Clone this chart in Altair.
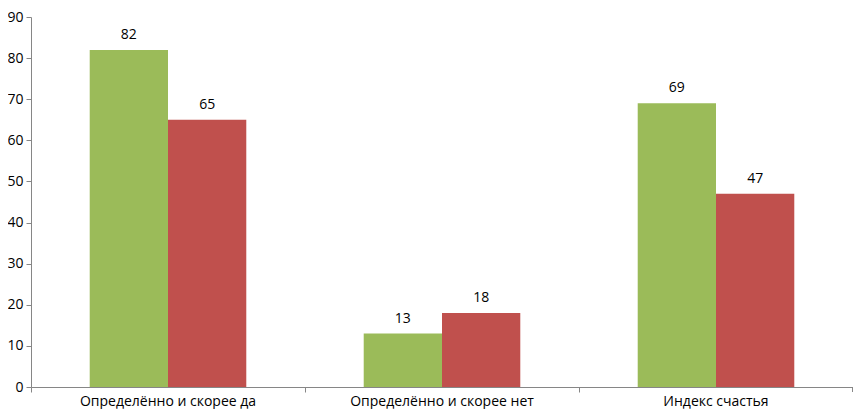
import altair as alt
import pandas as pd

categories = ["Определённо и скорее да", "Определённо и скорее нет", "Индекс счастья"]
series = ["A", "B"]
values_a = [82, 13, 69]
values_b = [65, 18, 47]
colors = ["#9BBB59", "#C0504D"]

rows = []
for c, a, b in zip(categories, values_a, values_b):
    rows.append({"cat": c, "s": "A", "v": a})
    rows.append({"cat": c, "s": "B", "v": b})
df = pd.DataFrame(rows)

FONT = "Open Sans"
W, H = 822, 370

base = alt.Chart(df).encode(
    x=alt.X("cat:N", sort=categories, title=None,
            scale=alt.Scale(paddingInner=0, paddingOuter=0),
            axis=alt.Axis(labelAngle=0, bandPosition=0, ticks=True, tickSize=5,
                          tickColor="#868686", domainColor="#868686",
                          labelFont=FONT, labelFontSize=14, labelColor="#000000",
                          labelPadding=2, grid=False, labelBound=False,
                          labelLimit=400)),
    xOffset=alt.XOffset("s:N", sort=series,
                        scale=alt.Scale(paddingOuter=0.75, paddingInner=0)),
)

bars = base.mark_bar().encode(
    y=alt.Y("v:Q", title=None,
            scale=alt.Scale(domain=[0, 90], nice=False),
            axis=alt.Axis(values=list(range(0, 91, 10)), grid=False, tickSize=5,
                          tickColor="#868686", domainColor="#868686",
                          labelFont=FONT, labelFontSize=14, labelColor="#000000",
                          labelPadding=3)),
    color=alt.Color("s:N", scale=alt.Scale(domain=series, range=colors), legend=None),
)

text = base.mark_text(dy=-15, font=FONT, fontSize=14, color="#000000").encode(
    y=alt.Y("v:Q"),
    text=alt.Text("v:Q"),
)

endtick = alt.Chart(df).mark_rule(color="#868686").encode(
    x=alt.value(W), y=alt.value(H), y2=alt.value(H + 5)
)

chart = alt.layer(bars, text, endtick).properties(
    width=W, height=H,
    autosize=alt.AutoSizeParams(type="none"),
    padding={"left": 23, "top": 9, "right": 0, "bottom": 22},
).configure_view(stroke=None)

chart.save("out.html", embed_options={"renderer": "svg", "actions": False})
